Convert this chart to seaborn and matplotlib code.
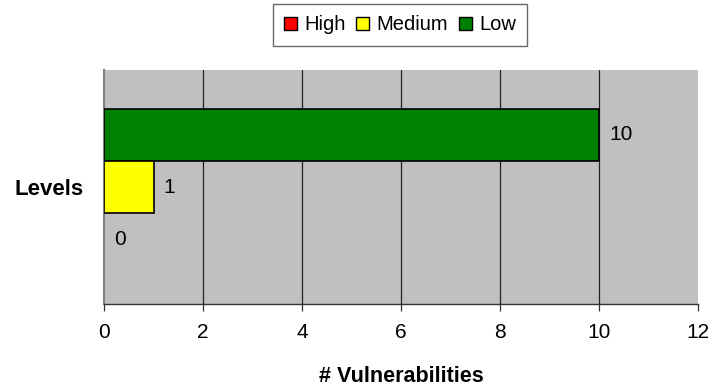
import matplotlib
matplotlib.use("Agg")
import matplotlib.pyplot as plt
from matplotlib.patches import Patch
import seaborn as sns
import pandas as pd

# Data
categories = ["Levels"]
series = ["High", "Medium", "Low"]
values = [0, 1, 10]
colors = {"High": "#FF0000", "Medium": "#FFFF00", "Low": "#008000"}
x_ticks = [0, 2, 4, 6, 8, 10, 12]

sns.set_theme(style="white")
plt.rcParams["font.family"] = ["Liberation Sans", "DejaVu Sans"]
plt.rcParams["text.color"] = "black"
plt.rcParams["xtick.color"] = "black"
plt.rcParams["ytick.color"] = "black"
plt.rcParams["axes.labelcolor"] = "black"

df = pd.DataFrame({"Category": categories * len(series), "Severity": series, "Count": values})

fig = plt.figure(figsize=(7.13, 3.89), dpi=100)
ax = fig.add_axes([0.1459, 0.2185, 0.8335, 0.6015])
ax.set_facecolor("#C0C0C0")

draw_order = ["Low", "Medium", "High"]
sns.barplot(data=df, x="Count", y="Category", hue="Severity", hue_order=draw_order,
            palette=colors, saturation=1, orient="h", width=0.667, gap=0, edgecolor="black",
            linewidth=1.2, legend=False, ax=ax, zorder=3)

for cont in ax.containers:
    for patch in cont.patches:
        if patch.get_width() == 0:
            patch.set_linewidth(0)
    ax.bar_label(cont, padding=7, fontsize=15, color="black")

ax.set_xlim(0, 12)
ax.set_ylim(0.5, -0.5)
ax.set_xticks(x_ticks)
ax.set_xticklabels([str(t) for t in x_ticks], fontsize=15)
ax.xaxis.grid(True, color="#222222", linewidth=0.9, zorder=0)
ax.set_axisbelow(True)
gl = ax.get_xgridlines()
gl[0].set_visible(False)
gl[-1].set_visible(False)
ax.tick_params(axis="x", direction="out", length=5, width=0.9, color="#333333", pad=9, bottom=True)
ax.tick_params(axis="y", length=0, pad=15)
ax.set_yticks([0])
ax.set_yticklabels(["Levels"], fontsize=16, fontweight="bold")
for s in ["top", "right"]:
    ax.spines[s].set_visible(False)
ax.spines["left"].set_color("#808080")
ax.spines["left"].set_linewidth(1.5)
ax.spines["bottom"].set_color("#333333")
ax.spines["bottom"].set_linewidth(1.0)
ax.set_ylabel("")
ax.set_xlabel("# Vulnerabilities", fontsize=15.5, fontweight="bold", labelpad=17)

handles = [Patch(facecolor=colors[s], edgecolor="black", linewidth=1.0, label=s) for s in series]
leg = fig.legend(handles=handles, loc="center", bbox_to_anchor=(400 / 713, 1 - 25 / 389), ncol=3,
                 frameon=True, fancybox=False, shadow=False, fontsize=14.5,
                 handlelength=0.65, handleheight=0.65, handletextpad=0.35, columnspacing=0.55,
                 borderpad=0.55)
leg.get_frame().set_edgecolor("#444444")
leg.get_frame().set_linewidth(1.0)

fig.savefig("out.png", dpi=100)
